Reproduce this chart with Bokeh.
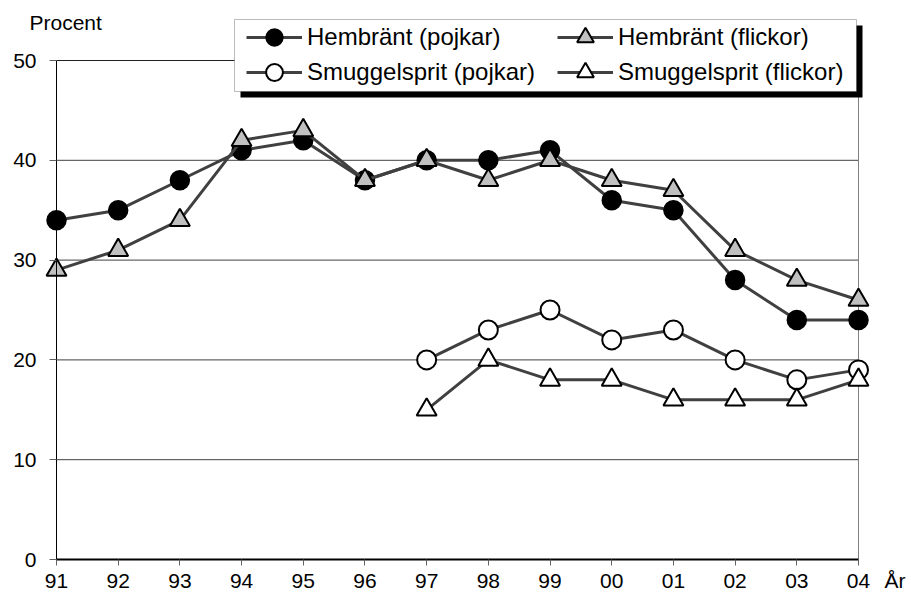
from bokeh.plotting import figure
from bokeh.models import (Range1d, FixedTicker, Legend, LegendItem, BoxAnnotation, Label)
from bokeh.embed import file_html
from bokeh.resources import INLINE

# ---- data ----
years = ["91", "92", "93", "94", "95", "96", "97", "98", "99", "00", "01", "02", "03", "04"]
hembrant_pojkar = [34, 35, 38, 41, 42, 38, 40, 40, 41, 36, 35, 28, 24, 24]
hembrant_flickor = [29, 31, 34, 42, 43, 38, 40, 38, 40, 38, 37, 31, 28, 26]
smuggel_years = ["97", "98", "99", "00", "01", "02", "03", "04"]
smuggel_pojkar = [20, 23, 25, 22, 23, 20, 18, 19]
smuggel_flickor = [15, 20, 18, 18, 16, 16, 16, 18]
y_ticks = [0, 10, 20, 30, 40, 50]
grid_vals = [10, 20, 30, 40]

FONT = "Liberation Sans"

# ---- geometry (canvas pixels) ----
W, H = 910, 600
X0_PX, X13_PX = 56, 858     # where first / last category sit
Y0_PX, Y50_PX = 559, 60     # where 0 % / 50 % sit
PX_X = (X13_PX - X0_PX) / 13.0
PX_Y = (Y0_PX - Y50_PX) / 50.0


def px2x(px):
    return (px - X0_PX) / PX_X


def px2y(py):
    return (Y0_PX - py) / PX_Y


p = figure(width=W, height=H,
           x_range=Range1d(px2x(0), px2x(W)), y_range=Range1d(px2y(H), px2y(0)),
           output_backend="svg", toolbar_location=None,
           min_border_left=0, min_border_right=0, min_border_top=0, min_border_bottom=0)
p.outline_line_color = None
p.background_fill_color = "white"
p.border_fill_color = "white"
p.xgrid.visible = False
p.ygrid.visible = False

xi = list(range(len(years)))
sx = [years.index(y) for y in smuggel_years]
n_last = len(years) - 1

# ---- axes ----
xa = p.xaxis[0]
xa.ticker = FixedTicker(ticks=xi)
xa.major_label_overrides = {i: y for i, y in zip(xi, years)}
xa.bounds = (0, n_last)
xa.fixed_location = 0
xa.axis_line_color = "black"
xa.axis_line_width = 2
xa.major_tick_in = 0
xa.major_tick_out = 6
xa.major_tick_line_color = "#606060"
xa.minor_tick_line_color = None
xa.major_label_text_font = FONT
xa.major_label_text_font_size = "21px"
xa.major_label_text_color = "black"
xa.major_label_standoff = 8

ya = p.yaxis[0]
ya.ticker = FixedTicker(ticks=y_ticks)
ya.bounds = (0, 50)
ya.fixed_location = 0
ya.axis_line_color = "black"
ya.axis_line_width = 1
ya.major_tick_in = 0
ya.major_tick_out = 7
ya.major_tick_line_color = "#606060"
ya.minor_tick_line_color = None
ya.major_label_text_font = FONT
ya.major_label_text_font_size = "21px"
ya.major_label_text_color = "black"
ya.major_label_standoff = 13

# ---- frame lines (grid, top & right border) ----
p.segment(x0=[0] * len(grid_vals), x1=[n_last] * len(grid_vals), y0=grid_vals, y1=grid_vals,
          line_color="#404040", line_width=1)
p.segment(x0=[0], x1=[n_last], y0=[50], y1=[50], line_color="#202020", line_width=1)
p.segment(x0=[n_last], x1=[n_last], y0=[0], y1=[50], line_color="#808080", line_width=1)

# ---- series ----
LINE_C = "#404040"
l1 = p.line(xi, hembrant_pojkar, line_color=LINE_C, line_width=3)
m1 = p.scatter(xi, hembrant_pojkar, marker="circle", size=19, fill_color="black",
               line_color="black", line_width=1.5)
l2 = p.line(xi, hembrant_flickor, line_color=LINE_C, line_width=3)
m2 = p.scatter(xi, hembrant_flickor, marker="triangle", size=20, fill_color="#C0C0C0",
               line_color="black", line_width=2)
l3 = p.line(sx, smuggel_pojkar, line_color=LINE_C, line_width=3)
m3 = p.scatter(sx, smuggel_pojkar, marker="circle", size=19, fill_color="white",
               line_color="black", line_width=2)
l4 = p.line(sx, smuggel_flickor, line_color=LINE_C, line_width=3)
m4 = p.scatter(sx, smuggel_flickor, marker="triangle", size=20, fill_color="white",
               line_color="black", line_width=2)

# ---- legend box + shadow ----
BOX_L, BOX_R, BOX_T, BOX_B, SH = 234, 856, 19, 91, 6
p.add_layout(BoxAnnotation(left=px2x(BOX_L + SH), right=px2x(BOX_R + SH),
                           top=px2y(BOX_T + SH), bottom=px2y(BOX_B + SH),
                           fill_color="black", fill_alpha=1.0, line_color=None))
p.add_layout(BoxAnnotation(left=px2x(BOX_L), right=px2x(BOX_R),
                           top=px2y(BOX_T), bottom=px2y(BOX_B),
                           fill_color="white", fill_alpha=1.0,
                           line_color="#202020", line_width=1))

GW, GH, STAND, LW = 56, 42, 5, 250
leg_left = 246
row_centers = [37, 72]
rows = [
    [("Hembränt (pojkar)", [l1, m1]), ("Hembränt (flickor)", [l2, m2])],
    [("Smuggelsprit (pojkar)", [l3, m3]), ("Smuggelsprit (flickor)", [l4, m4])],
]
for rc, row in zip(row_centers, rows):
    top = rc - GH // 2
    legend = Legend(items=[LegendItem(label=lab, renderers=rs) for lab, rs in row],
                    orientation="horizontal", location=(leg_left, H - (top + GH)),
                    glyph_width=GW, glyph_height=GH, label_height=GH, label_width=LW,
                    padding=0, spacing=0, label_standoff=STAND, margin=0,
                    label_text_font=FONT, label_text_font_size="24px",
                    label_text_color="black",
                    border_line_color=None, background_fill_alpha=0.0)
    p.add_layout(legend)

# ---- axis titles ----
p.add_layout(Label(x=px2x(29), y=px2y(22), text="Procent", text_font=FONT,
                   text_font_size="21px", text_baseline="middle", text_align="left",
                   text_color="black"))
p.add_layout(Label(x=px2x(884), y=px2y(580), text="År", text_font=FONT,
                   text_font_size="21px", text_baseline="middle", text_align="left",
                   text_color="black"))

open("out.html", "w").write(file_html(p, INLINE))
